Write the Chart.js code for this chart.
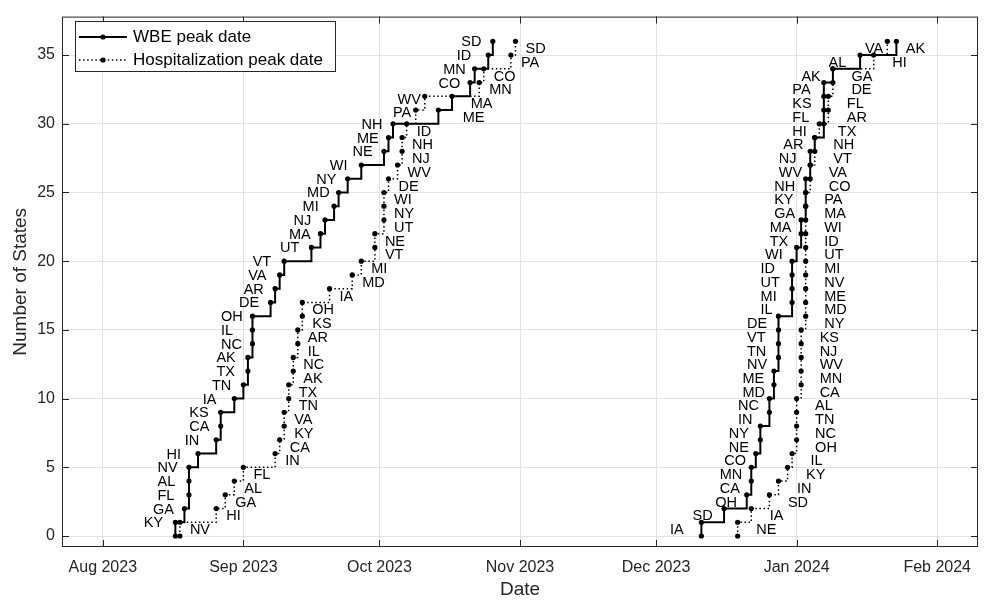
<!DOCTYPE html>
<html>
<head>
<meta charset="utf-8">
<script src="https://cdn.jsdelivr.net/npm/chart.js@4.4.1/dist/chart.umd.min.js"></script>
<style>
html,body{margin:0;padding:0;background:#fff;}
#wrap{width:987px;height:603px;position:relative;}
</style>
</head>
<body>
<div id="wrap"><canvas id="c" width="987" height="603"></canvas></div>
<script>
// ---------------- data ----------------
const seriesNames = ['WBE peak date', 'Hospitalization peak date'];

const wbeWave1States = ['KY','GA','FL','AL','NV','HI','IN','CA','KS','IA','TN','TX','AK','NC','IL','OH','DE','AR','VA','VT','UT','MA','NJ','MI','MD','NY','WI','NE','ME','NH','PA','WV','CO','MN','ID','SD'];
const wbeWave1Dates = ['2023-08-17','2023-08-19','2023-08-20','2023-08-20','2023-08-20','2023-08-22','2023-08-26','2023-08-27','2023-08-27','2023-08-30','2023-09-01','2023-09-02','2023-09-02','2023-09-03','2023-09-03','2023-09-03','2023-09-07','2023-09-08','2023-09-09','2023-09-10','2023-09-16','2023-09-18','2023-09-19','2023-09-21','2023-09-22','2023-09-24','2023-09-27','2023-10-02','2023-10-03','2023-10-04','2023-10-14','2023-10-17','2023-10-21','2023-10-22','2023-10-25','2023-10-26'];

const hospWave1States = ['NV','HI','GA','AL','FL','IN','CA','KY','VA','TN','TX','AK','NC','IL','AR','KS','OH','IA','MD','MI','VT','NE','UT','NY','WI','DE','WV','NJ','NH','ID','ME','MA','MN','CO','PA','SD'];
const hospWave1Dates = ['2023-08-18','2023-08-26','2023-08-28','2023-08-30','2023-09-01','2023-09-08','2023-09-09','2023-09-10','2023-09-10','2023-09-11','2023-09-11','2023-09-12','2023-09-12','2023-09-13','2023-09-13','2023-09-14','2023-09-14','2023-09-20','2023-09-25','2023-09-27','2023-09-30','2023-09-30','2023-10-02','2023-10-02','2023-10-02','2023-10-03','2023-10-05','2023-10-06','2023-10-06','2023-10-07','2023-10-09','2023-10-11','2023-10-23','2023-10-24','2023-10-30','2023-10-31'];

const wbeWave2States = ['IA','SD','OH','CA','MN','CO','NE','NY','IN','NC','MD','ME','NV','TN','VT','DE','IL','MI','UT','ID','WI','TX','MA','GA','KY','NH','WV','NJ','AR','HI','FL','KS','PA','AK','AL','VA'];
const wbeWave2Dates = ['2023-12-11','2023-12-16','2023-12-21','2023-12-22','2023-12-22','2023-12-23','2023-12-24','2023-12-24','2023-12-26','2023-12-26','2023-12-27','2023-12-27','2023-12-28','2023-12-28','2023-12-28','2023-12-28','2023-12-31','2023-12-31','2023-12-31','2023-12-31','2024-01-01','2024-01-02','2024-01-02','2024-01-03','2024-01-03','2024-01-03','2024-01-04','2024-01-04','2024-01-05','2024-01-07','2024-01-07','2024-01-07','2024-01-07','2024-01-09','2024-01-15','2024-01-23'];

const hospWave2States = ['NE','IA','SD','IN','KY','IL','OH','NC','TN','AL','CA','MN','WV','NJ','KS','NY','MD','ME','NV','MI','UT','ID','WI','MA','PA','CO','VA','VT','NH','TX','AR','FL','DE','GA','HI','AK'];
const hospWave2Dates = ['2023-12-19','2023-12-22','2023-12-26','2023-12-28','2023-12-30','2023-12-31','2024-01-01','2024-01-01','2024-01-01','2024-01-01','2024-01-02','2024-01-02','2024-01-02','2024-01-02','2024-01-02','2024-01-03','2024-01-03','2024-01-03','2024-01-03','2024-01-03','2024-01-03','2024-01-03','2024-01-03','2024-01-03','2024-01-03','2024-01-04','2024-01-04','2024-01-05','2024-01-05','2024-01-06','2024-01-08','2024-01-08','2024-01-09','2024-01-09','2024-01-18','2024-01-21'];

const xTickDates = ['2023-08-01','2023-09-01','2023-10-01','2023-11-01','2023-12-01','2024-01-01','2024-02-01'];
const xTickLabels = ['Aug 2023','Sep 2023','Oct 2023','Nov 2023','Dec 2023','Jan 2024','Feb 2024'];
const yTickValues = [0,5,10,15,20,25,30,35];

// ---------------- style / layout ----------------
const FONT = '"Liberation Sans", Arial, Helvetica, sans-serif';
const TXT = '#262626';
const X_MIN = Date.parse('2023-07-23');
const X_MAX = Date.parse('2024-02-10');
const Y_MIN = -0.8, Y_MAX = 37.8;

// label placement per series: horizontal pixel shift of the label's left edge, vertical shift in count units
const LABEL_PLACE = {
  wbe1:  {dx: -31.5, dyCount: 0},
  hosp1: {dx: 10,    dyCount: 0.5},
  wbe2:  {dx: -31.5, dyCount: 0.5},
  hosp2: {dx: 18.5,  dyCount: 0.5}
};
// individual label nudges (pixels) where the reference moved a label to avoid overlap
const LABEL_NUDGE = {
  'wbe1:PA': [-14, 2], 'wbe1:WV': [-23, 3],
  'hosp1:ME': [37, 0], 'hosp1:MA': [36, 0]
};

function buildPoints(dates) {
  const pts = [{x: Date.parse(dates[0]), y: 0}];
  dates.forEach((d, i) => pts.push({x: Date.parse(d), y: i + 1}));
  return pts;
}

function makeSet(key, name, states, dates, dashed) {
  return {
    label: name,
    key: key,
    states: states,
    data: buildPoints(dates),
    stepped: 'before',
    borderColor: '#000',
    borderWidth: dashed ? 1.5 : 2,
    borderDash: dashed ? [1.5, 2.6] : [],
    pointRadius: 2.6,
    pointBackgroundColor: '#000',
    pointBorderWidth: 0,
    fill: false,
    tension: 0
  };
}

const datasets = [
  makeSet('wbe1',  seriesNames[0], wbeWave1States,  wbeWave1Dates,  false),
  makeSet('hosp1', seriesNames[1], hospWave1States, hospWave1Dates, true),
  makeSet('wbe2',  seriesNames[0], wbeWave2States,  wbeWave2Dates,  false),
  makeSet('hosp2', seriesNames[1], hospWave2States, hospWave2Dates, true)
];

const tickMs = xTickDates.map(d => Date.parse(d));

const decor = {
  id: 'decor',
  afterDatasetsDraw(chart) {
    const {ctx, scales: {x, y}} = chart;
    ctx.save();
    ctx.font = '14.5px ' + FONT;
    ctx.fillStyle = '#000';
    ctx.textBaseline = 'middle';
    ctx.textAlign = 'left';
    chart.data.datasets.forEach(ds => {
      const pl = LABEL_PLACE[ds.key];
      ds.data.forEach((p, i) => {
        if (i === 0) return;
        const st = ds.states[i - 1];
        const nud = LABEL_NUDGE[ds.key + ':' + st] || [0, 0];
        const px = x.getPixelForValue(p.x) + pl.dx + nud[0];
        const py = y.getPixelForValue(p.y - pl.dyCount) + 1 + nud[1];
        ctx.fillText(st, px, py);
      });
    });
    ctx.restore();
  },
  afterDraw(chart) {
    const {ctx, chartArea: a, scales: {x, y}} = chart;
    ctx.save();
    // frame
    ctx.strokeStyle = TXT;
    ctx.lineWidth = 1;
    ctx.strokeRect(a.left + 0.5, a.top + 0.5, a.right - a.left - 1, a.bottom - a.top - 1);
    // inner tick marks
    const tl = 7;
    ctx.beginPath();
    tickMs.forEach(v => {
      const px = Math.round(x.getPixelForValue(v)) + 0.5;
      ctx.moveTo(px, a.bottom); ctx.lineTo(px, a.bottom - tl);
      ctx.moveTo(px, a.top); ctx.lineTo(px, a.top + tl);
    });
    yTickValues.forEach(v => {
      const py = Math.round(y.getPixelForValue(v)) + 0.5;
      ctx.moveTo(a.left, py); ctx.lineTo(a.left + tl, py);
      ctx.moveTo(a.right, py); ctx.lineTo(a.right - tl, py);
    });
    ctx.stroke();
    // legend
    const L = {x: 75, y: 21, w: 260, h: 50};
    ctx.fillStyle = '#fff';
    ctx.fillRect(L.x, L.y, L.w, L.h);
    ctx.strokeStyle = '#262626';
    ctx.strokeRect(L.x + 0.5, L.y + 0.5, L.w, L.h);
    const rows = [{t: seriesNames[0], dash: [], w: 2, cy: 37}, {t: seriesNames[1], dash: [1.5, 2.6], w: 1.5, cy: 60}];
    rows.forEach(r => {
      ctx.beginPath();
      ctx.setLineDash(r.dash);
      ctx.lineWidth = r.w;
      ctx.strokeStyle = '#000';
      ctx.moveTo(79, r.cy); ctx.lineTo(127, r.cy);
      ctx.stroke();
      ctx.setLineDash([]);
      ctx.beginPath();
      ctx.fillStyle = '#000';
      ctx.arc(103, r.cy, 2.6, 0, Math.PI * 2);
      ctx.fill();
      ctx.font = '17px ' + FONT;
      ctx.textBaseline = 'middle';
      ctx.textAlign = 'left';
      ctx.fillText(r.t, 133, r.cy + 0.5);
    });
    ctx.restore();
  }
};

new Chart(document.getElementById('c'), {
  type: 'line',
  data: {datasets: datasets},
  options: {
    responsive: false,
    devicePixelRatio: 1,
    animation: false,
    parsing: true,
    layout: {padding: {top: 9, right: 9, left: 0, bottom: 0}},
    plugins: {legend: {display: false}, tooltip: {enabled: false}},
    scales: {
      x: {
        type: 'linear',
        min: X_MIN, max: X_MAX,
        afterBuildTicks: s => { s.ticks = tickMs.map(v => ({value: v})); },
        afterFit: s => { s.height = 56; },
        ticks: {
          autoSkip: false, maxRotation: 0, padding: 11,
          color: TXT, font: {family: FONT, size: 16},
          callback: v => { const k = tickMs.indexOf(v); return k >= 0 ? xTickLabels[k] : ''; }
        },
        grid: {color: '#e2e2e2', lineWidth: 1, drawTicks: false},
        border: {display: false},
        title: {display: true, text: 'Date', color: TXT, font: {family: FONT, size: 19}, padding: {top: 0, bottom: 2}}
      },
      y: {
        type: 'linear',
        min: Y_MIN, max: Y_MAX,
        afterBuildTicks: s => { s.ticks = yTickValues.map(v => ({value: v})); },
        afterFit: s => { s.width = 62; },
        ticks: {padding: 7, color: TXT, font: {family: FONT, size: 16}},
        grid: {color: '#e2e2e2', lineWidth: 1, drawTicks: false},
        border: {display: false},
        title: {display: true, text: 'Number of States', color: TXT, font: {family: FONT, size: 19}, padding: {top: 9, bottom: 0}}
      }
    }
  },
  plugins: [decor]
});
</script>
</body>
</html>
